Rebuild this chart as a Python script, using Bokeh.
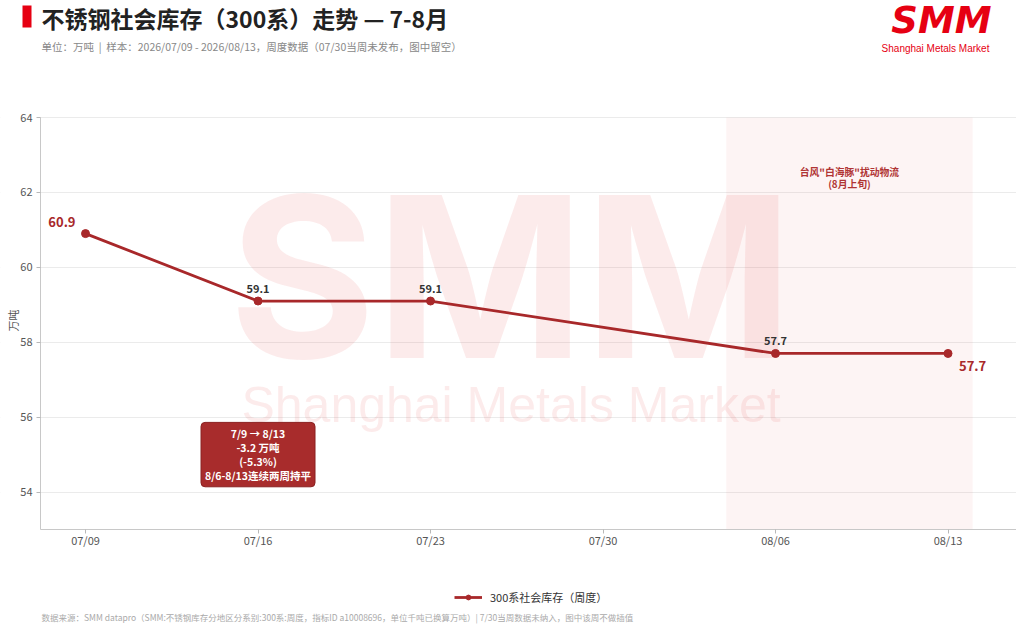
import math
from datetime import date
from bokeh.plotting import figure
from bokeh.models import (ColumnDataSource, Label, BoxAnnotation, Legend, LegendItem,
                          FixedTicker, Range1d)
from bokeh.core.properties import value
from bokeh.embed import file_html
from bokeh.resources import INLINE

# ---------------- data ----------------
dates = ["07/09", "07/16", "07/23", "07/30", "08/06", "08/13"]
inventory = [60.9, 59.1, 59.1, None, 57.7, 57.7]   # 万吨, 07/30 not published
y_ticks = [54, 56, 58, 60, 62, 64]
typhoon_period = [date(2026, 8, 4), date(2026, 8, 14)]
start_date = date(2026, 7, 9)
summary_lines = ["7/9 → 8/13", "-3.2 万吨", "(-5.3%)", "8/6-8/13连续两周持平"]
typhoon_note = ["台风\"白海豚\"扰动物流", "(8月上旬)"]
series_name = "300系社会库存（周度）"
title_text = "不锈钢社会库存（300系）走势 — 7-8月"
subtitle_text = "单位：万吨 \u00a0|\u00a0 样本：2026/07/09 - 2026/08/13，周度数据（07/30当周未发布，图中留空）"
footer_text = "数据来源：SMM datapro（SMM:不锈钢库存分地区分系别:300系:周度，指标ID a10008696，单位千吨已换算万吨）| 7/30当周数据未纳入，图中该周不做插值"

FONT = "Noto Sans CJK SC"
RED = "#a8282a"
LOGO_RED = "#e60012"

# ---------------- geometry of the canvas ----------------
W, H = 1016, 627
plot_left, plot_right, plot_top, plot_bottom = 40, 1016, 117, 529   # px
x_lo, x_hi = -0.261, 5.397
y_lo, y_hi = 53, 64
ppx = (plot_right - plot_left) / (x_hi - x_lo)
ppy = (plot_bottom - plot_top) / (y_hi - y_lo)
x_range = Range1d(x_lo - plot_left / ppx, x_hi + (W - plot_right) / ppx)
y_range = Range1d(y_lo - (H - plot_bottom) / ppy, y_hi + plot_top / ppy)

xs = [i for i, v in enumerate(inventory) if v is not None]
ys = [v for v in inventory if v is not None]
src = ColumnDataSource(dict(x=xs, y=ys))

mid_idx = [1, 2, 4]
src_mid = ColumnDataSource(dict(x=mid_idx, y=[inventory[i] for i in mid_idx],
                                lab=[f"{inventory[i]:.1f}" for i in mid_idx]))
src_first = ColumnDataSource(dict(x=[xs[0]], y=[ys[0]], lab=[f"{ys[0]:.1f}"]))
src_last = ColumnDataSource(dict(x=[xs[-1]], y=[ys[-1]], lab=[f"{ys[-1]:.1f}"]))

p = figure(width=W, height=H, output_backend="svg", toolbar_location=None,
           x_range=x_range, y_range=y_range,
           min_border_left=0, min_border_right=0, min_border_top=0, min_border_bottom=0)
p.outline_line_color = None
p.background_fill_color = "white"
p.border_fill_color = "white"


def sy(page_y):
    return H - page_y


# shaded typhoon period
t0 = (typhoon_period[0] - start_date).days / 7
t1 = (typhoon_period[1] - start_date).days / 7
p.add_layout(BoxAnnotation(left=t0, right=t1, top=y_hi, bottom=y_lo, fill_color="#e03c3c",
                           fill_alpha=0.06, line_color=None, level="underlay"))
# keep grid lines out of the tick-label strip
p.add_layout(BoxAnnotation(left=0, right=plot_left - 0.5, top=sy(plot_top) + 2,
                           bottom=sy(plot_bottom), left_units="screen", right_units="screen",
                           top_units="screen", bottom_units="screen", fill_color="white",
                           fill_alpha=1, line_color=None, level="underlay"))

# watermark
p.add_layout(Label(x=510.5, y=sy(276), x_units="screen", y_units="screen", text="SMM",
                   text_font="Inter", text_font_style="bold", text_font_size="224px",
                   text_color="#e03c3c", text_alpha=0.1, text_align="center",
                   text_baseline="middle", level="underlay"))
p.add_layout(Label(x=510.5, y=sy(404), x_units="screen", y_units="screen",
                   text="Shanghai Metals Market", text_font="Liberation Sans",
                   text_font_size="50px", text_color="#e03c3c", text_alpha=0.1,
                   text_align="center", text_baseline="middle", level="underlay"))

# axes (drawn at fixed data locations inside the canvas)
p.xgrid.grid_line_color = None
p.ygrid.grid_line_color = "#ebebeb"
p.xaxis.ticker = FixedTicker(ticks=list(range(len(dates))))
p.xaxis.major_label_overrides = {i: d for i, d in enumerate(dates)}
p.yaxis.ticker = FixedTicker(ticks=y_ticks)
p.xaxis.fixed_location = y_lo
p.yaxis.fixed_location = x_lo
p.xaxis.bounds = (x_lo, x_hi)
p.yaxis.bounds = (y_lo, y_hi)
for ax in (p.xaxis, p.yaxis):
    ax.axis_line_color = "#c8c8c8"
    ax.major_tick_line_color = "#b8b8b8"
    ax.minor_tick_line_color = None
    ax.major_tick_in = 0
    ax.major_tick_out = 4
    ax.major_label_text_font = FONT
    ax.major_label_text_font_size = "11px"
    ax.major_label_text_color = "#555555"
p.yaxis.major_label_standoff = 4
p.xaxis.major_label_standoff = -2

# line + markers
r_line = p.line("x", "y", source=src, line_color=RED, line_width=2.8)
r_pts = p.scatter("x", "y", source=src, size=8, fill_color=RED, line_color=RED)

# data labels
p.text("x", "y", text="lab", source=src_mid, text_font=value(FONT), text_font_style="bold",
       text_font_size="11px", text_color="#333333", text_align="center",
       text_baseline="middle", y_offset=-13)
p.text("x", "y", text="lab", source=src_first, text_font=value(FONT), text_font_style="bold",
       text_font_size="13px", text_color=RED, text_align="right",
       text_baseline="middle", x_offset=-10, y_offset=-12)
p.text("x", "y", text="lab", source=src_last, text_font=value(FONT), text_font_style="bold",
       text_font_size="13px", text_color=RED, text_align="left",
       text_baseline="middle", x_offset=11, y_offset=13)

# summary box
p.add_layout(Label(x=1, y=55.0, text="\n".join(summary_lines), text_font=FONT,
                   text_font_style="bold", text_font_size="10.5px", text_color="white",
                   text_align="center", text_baseline="middle", text_line_height=0.92,
                   background_fill_color="#a82c2c", border_line_color="#8a1f1f",
                   border_line_width=1, padding=4, border_radius=4))

# typhoon note
p.add_layout(Label(x=(t0 + t1) / 2, y=62.39, text="\n".join(typhoon_note), text_font=FONT,
                   text_font_style="bold", text_font_size="9.8px", text_color="#b03434",
                   text_align="center", text_baseline="middle", text_line_height=0.86))

# y-axis title
p.add_layout(Label(x=12, y=sy(320), x_units="screen", y_units="screen", text="万吨",
                   text_font=FONT, text_font_size="11px", text_color="#555555",
                   angle=math.pi / 2, text_align="center", text_baseline="middle"))

# header
p.add_layout(BoxAnnotation(left=22, right=31, top=sy(5), bottom=sy(27), left_units="screen",
                           right_units="screen", top_units="screen", bottom_units="screen",
                           fill_color=LOGO_RED, fill_alpha=1, line_color=None))
p.add_layout(Label(x=41, y=sy(17), x_units="screen", y_units="screen", text=title_text,
                   text_font=FONT, text_font_style="bold", text_font_size="23px",
                   text_color="#222222", text_baseline="middle"))
p.add_layout(Label(x=41, y=sy(46), x_units="screen", y_units="screen", text=subtitle_text,
                   text_font=FONT, text_font_size="10.5px", text_color="#888888",
                   text_baseline="middle"))
p.add_layout(Label(x=941, y=sy(19.5), x_units="screen", y_units="screen", text="SMM",
                   text_font="DejaVu Sans", text_font_style="bold italic",
                   text_font_size="37px", text_color=LOGO_RED, text_align="center",
                   text_baseline="middle"))
p.add_layout(Label(x=935, y=sy(47.5), x_units="screen", y_units="screen",
                   text="Shanghai Metals Market", text_font="Liberation Sans",
                   text_font_size="10px", text_color=LOGO_RED, text_align="center",
                   text_baseline="middle"))

# footer
p.add_layout(Label(x=41, y=sy(616), x_units="screen", y_units="screen", text=footer_text,
                   text_font=FONT, text_font_size="8.5px", text_color="#aaaaaa",
                   text_baseline="middle"))

# legend
legend = Legend(items=[LegendItem(label=series_name, renderers=[r_line, r_pts])],
                location=(454, sy(604.5)), orientation="horizontal", margin=0, padding=0,
                glyph_width=28, glyph_height=12, label_standoff=8,
                label_text_font=FONT, label_text_font_size="11px", label_text_color="#333333",
                border_line_color=None, background_fill_alpha=0)
p.add_layout(legend, "center")

open("out.html", "w").write(file_html(p, INLINE))
